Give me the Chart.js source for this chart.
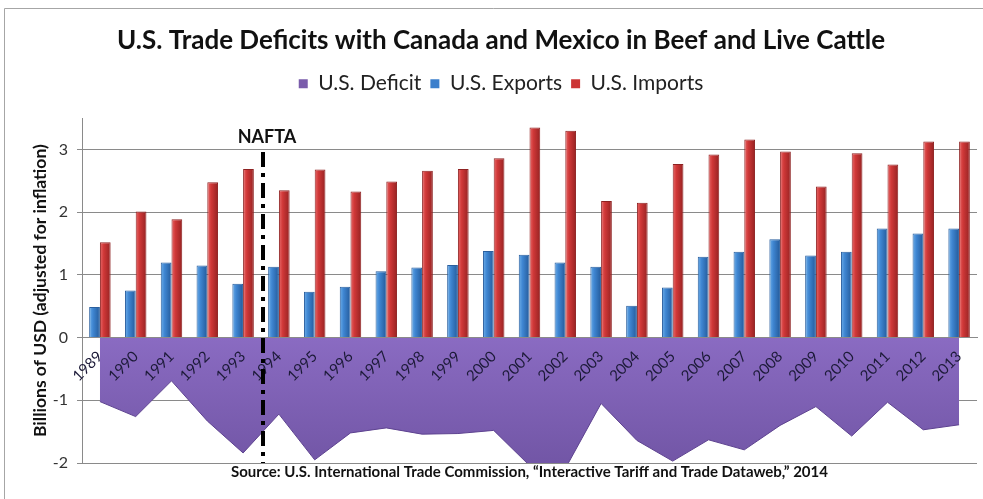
<!DOCTYPE html>
<html lang="en">
  <head>
    <meta charset="UTF-8" />
    <title>US beef and cattle trade</title>
    <script src="https://cdn.jsdelivr.net/npm/chart.js"></script>
    <style>
      body { margin: 0; background: #fff; }
      .chart-box { position: relative; width: 983px; height: 499px; }
    </style>
  </head>
  <body>
    <div class="chart-box">
      <canvas id="tradeChart"></canvas>
    </div>
    <script>
      // data (billions of USD)
      const years = ["1989", "1990", "1991", "1992", "1993", "1994", "1995", "1996", "1997", "1998", "1999", "2000", "2001",
        "2002", "2003", "2004", "2005", "2006", "2007", "2008", "2009", "2010", "2011", "2012", "2013"];
      const exportsBn = [0.49, 0.75, 1.2, 1.15, 0.86, 1.13, 0.73, 0.81, 1.06, 1.12, 1.16, 1.38, 1.32,
        1.2, 1.13, 0.51, 0.8, 1.29, 1.37, 1.57, 1.31, 1.37, 1.74, 1.66, 1.74];
      const importsBn = [1.52, 2.01, 1.89, 2.48, 2.69, 2.35, 2.68, 2.33, 2.49, 2.66, 2.69, 2.86, 3.35,
        3.3, 2.18, 2.15, 2.77, 2.92, 3.16, 2.97, 2.41, 2.94, 2.76, 3.13, 3.13];
      const deficitBn = [-1.02, -1.26, -0.69, -1.33, -1.84, -1.22, -1.95, -1.52, -1.44, -1.54, -1.53, -1.48, -2.04,
        -2.09, -1.05, -1.64, -1.97, -1.63, -1.79, -1.4, -1.1, -1.57, -1.03, -1.47, -1.39];
      const yTicks = [-2, -1, 0, 1, 2, 3];

      const FONT = "Lato, 'Open Sans', sans-serif";
      const GRID = "#8a8a8a";
      const CAT_PCT = 0.6;

      // purple fill, a bit lighter near the zero line
      function deficitFill(context) {
        const { chart } = context;
        const area = chart.chartArea;
        if (!area) return "#7a5cab";
        const y0 = chart.scales.y.getPixelForValue(0);
        const g = chart.ctx.createLinearGradient(0, y0, 0, area.bottom);
        g.addColorStop(0, "#8a6bc2");
        g.addColorStop(1, "#7256a6");
        return g;
      }

      // cylinder look on the bars: light left edge, dark right edge
      // side -1 = left bar of the pair, +1 = right bar
      function barFill(side, light, mid, dark) {
        return (context) => {
          const { chart } = context;
          if (!chart.chartArea || context.dataIndex === undefined) return mid;
          const xs = chart.scales.x;
          const c = xs.getPixelForValue(context.dataIndex);
          const w = (xs.width / years.length) * CAT_PCT / 2;
          const x0 = side < 0 ? c - w : c;
          const g = chart.ctx.createLinearGradient(x0, 0, x0 + w, 0);
          g.addColorStop(0, light);
          g.addColorStop(0.35, mid);
          g.addColorStop(1, dark);
          return g;
        };
      }

      // the NAFTA marker and the frame round the picture
      Chart.register({
        id: "naftaLine",
        beforeDraw: (chart) => {
          const { ctx } = chart;
          ctx.save();
          ctx.strokeStyle = "#a6a6a6";
          ctx.lineWidth = 1;
          ctx.beginPath();
          ctx.moveTo(4.5, 499);
          ctx.lineTo(4.5, 8.5);
          ctx.lineTo(983, 8.5);
          ctx.stroke();
          ctx.restore();
        },
        afterDraw: (chart) => {
          const { ctx, scales, chartArea } = chart;
          const x = scales.x.getPixelForValue(4.5) + 2;
          ctx.save();
          ctx.strokeStyle = "#000";
          ctx.lineWidth = 4;
          ctx.setLineDash([15, 6, 4, 6]);
          ctx.beginPath();
          ctx.moveTo(x, scales.y.getPixelForValue(2.96));
          ctx.lineTo(x, chartArea.bottom);
          ctx.stroke();
          ctx.setLineDash([]);
          ctx.fillStyle = "#111";
          ctx.font = "bold 18px " + FONT;
          ctx.textAlign = "center";
          ctx.textBaseline = "middle";
          ctx.fillText("NAFTA", x + 4, scales.y.getPixelForValue(3.2));
          ctx.restore();
        },
      });

      const ctx = document.getElementById("tradeChart").getContext("2d");
      const tradeChart = new Chart(ctx, {
        data: {
          labels: years,
          datasets: [
            {
              type: "line",
              label: "U.S. Deficit",
              data: deficitBn,
              fill: "origin",
              backgroundColor: deficitFill,
              borderColor: "#5e4390",
              borderWidth: 1,
              pointRadius: 0,
              tension: 0,
            },
            {
              type: "bar",
              label: "U.S. Exports",
              data: exportsBn,
              backgroundColor: barFill(-1, "#6eaee8", "#3f86d2", "#245a9a"),
              borderColor: "#2a5f9e",
              borderWidth: 1,
              barPercentage: 1,
              categoryPercentage: CAT_PCT,
            },
            {
              type: "bar",
              label: "U.S. Imports",
              data: importsBn,
              backgroundColor: barFill(1, "#e86a6a", "#d03838", "#962222"),
              borderColor: "#8e2222",
              borderWidth: 1,
              barPercentage: 1,
              categoryPercentage: CAT_PCT,
            },
          ],
        },
        options: {
          responsive: true,
          maintainAspectRatio: false,
          animation: false,
          layout: { padding: { left: 25, right: 6, top: 0, bottom: 18 } },
          plugins: {
            title: {
              display: true,
              text: "U.S. Trade Deficits with Canada and Mexico in Beef and Live Cattle",
              color: "#111",
              font: { family: FONT, size: 26, weight: "bold" },
              padding: { top: 25, bottom: 8 },
            },
            legend: {
              display: true,
              position: "top",
              labels: {
                color: "#222",
                font: { family: FONT, size: 21 },
                boxWidth: 9,
                boxHeight: 9,
                padding: 9,
                generateLabels: (chart) => {
                  const items = Chart.defaults.plugins.legend.labels.generateLabels(chart);
                  const solid = ["#7a5cab", "#3b7fcc", "#cc3535"];
                  items.forEach((it, i) => {
                    it.fillStyle = solid[i];
                    it.strokeStyle = solid[i];
                    it.lineWidth = 0;
                  });
                  return items;
                },
              },
            },
            subtitle: {
              display: true,
              position: "bottom",
              fullSize: false,
              text: "Source: U.S. International Trade Commission, \u201cInteractive Tariff and Trade Dataweb,\u201d 2014",
              color: "#111",
              font: { family: FONT, size: 15, weight: "bold" },
              padding: { top: 0, bottom: 0 },
            },
            tooltip: { enabled: false },
          },
          scales: {
            x: {
              type: "category",
              position: { y: 0 },
              offset: true,
              grid: { display: false },
              border: { display: true, color: GRID, z: 1 },
              ticks: {
                z: 1,
                autoSkip: false,
                minRotation: 45,
                maxRotation: 45,
                padding: 2,
                color: "#1c1a38",
                font: { family: FONT, size: 15 },
              },
            },
            // empty top axis, only keeps the gap between legend and plot
            gap: {
              type: "category",
              position: "top",
              grid: { display: false },
              border: { display: false },
              ticks: { display: false },
              afterFit: (scale) => {
                scale.height = 14;
              },
            },
            y: {
              min: -2,
              max: 3.5,
              afterBuildTicks: (scale) => {
                scale.ticks = yTicks.map((v) => ({ value: v }));
              },
              afterFit: (scale) => {
                scale.width = 57;
              },
              grid: { color: GRID, tickLength: 5 },
              border: { display: true, color: GRID },
              ticks: {
                padding: 9,
                color: "#333",
                font: { family: FONT, size: 16 },
              },
              title: {
                display: true,
                text: "Billions of USD (adjusted for inflation)",
                color: "#111",
                font: { family: FONT, size: 17.5, weight: "bold" },
                padding: { top: 5, bottom: 4 },
              },
            },
          },
        },
      });
    </script>
  </body>
</html>
